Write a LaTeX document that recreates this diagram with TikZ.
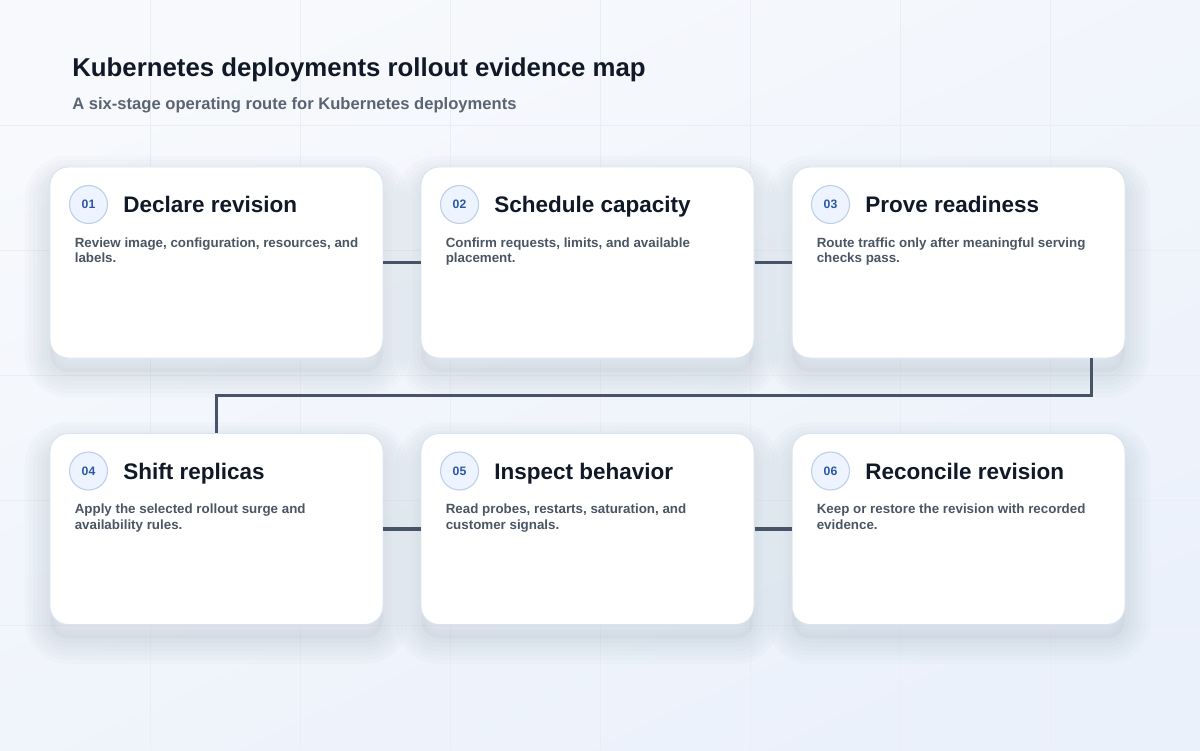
\documentclass[tikz,border=0pt]{standalone}
\usepackage{fontspec}
\setmainfont{Liberation Sans}
\usepackage{tikz}
\usepackage{xcolor}
\usetikzlibrary{positioning}

\definecolor{bgtop}{HTML}{F7F9FC}
\definecolor{bgbottom}{HTML}{EBF1FB}
\definecolor{gridcol}{HTML}{EAEEF4}
\definecolor{ink}{HTML}{111827}
\definecolor{subink}{HTML}{5B6473}
\definecolor{bodyink}{HTML}{4B5563}
\definecolor{cardline}{HTML}{DCE3EE}
\definecolor{shadowcol}{HTML}{4A5A80}
\definecolor{badgefill}{HTML}{EEF4FF}
\definecolor{badgeline}{HTML}{BFD0EA}
\definecolor{badgeink}{HTML}{2B58A6}
\definecolor{linkcol}{HTML}{475467}

\begin{document}
\begin{tikzpicture}[
    softshadow/.style={preaction={draw=shadowcol, line width=#1, draw opacity=0.018,
        transform canvas={yshift=-10pt}}},
    card/.style={rectangle, rounded corners=0.45cm, minimum width=8.325cm, minimum height=4.775cm,
        fill=white, draw=cardline, line width=0.7pt,
        softshadow=36pt, softshadow=30pt, softshadow=24pt, softshadow=18pt, softshadow=12pt, softshadow=6pt,
        preaction={fill=shadowcol, fill opacity=0.04, transform canvas={yshift=-10pt}}},
    badge/.style={circle, minimum size=0.95cm, inner sep=0pt, fill=badgefill, draw=badgeline, line width=0.8pt,
        text=badgeink, font=\fontsize{8.7}{10}\selectfont\bfseries},
    steptitle/.style={inner sep=0pt, text height=11.5pt, text depth=0pt, text=ink,
        font=\fontsize{16}{19}\selectfont\bfseries},
    stepbody/.style={inner sep=0pt, align=left, anchor=north west, text=bodyink,
        font=\fontsize{9.5}{10.7}\selectfont\bfseries},
    link/.style={draw=linkcol, line width=2.8pt}
]
    \useasboundingbox (0,0) rectangle (30,18.75);

    % Background
    \shade[top color=bgtop, bottom color=bgbottom, shading angle=25] (0,0) rectangle (30,18.75);
    \draw[gridcol, line width=0.6pt] (0.01,0.01) grid[xstep=3.75, ystep=3.125] (29.99,18.74);

    % Heading
    \node[anchor=base west, inner sep=0pt, text=ink, font=\fontsize{18.35}{22}\selectfont\bfseries] (head) at (1.8,16.825)
        {Kubernetes deployments rollout evidence map};
    \node[anchor=base west, inner sep=0pt, text=subink, font=\fontsize{11.8}{14}\selectfont\bfseries] (sub) at (1.8,16.0)
        {A six-stage operating route for Kubernetes deployments};

    % Cards, top row
    \node[card] (c1) at (5.4125,12.1875) {};
    \node[card] (c2) at (14.6875,12.1875) {};
    \node[card] (c3) at (23.9625,12.1875) {};

    % Cards, bottom row
    \node[card] (c4) at (5.4125,5.525) {};
    \node[card] (c5) at (14.6875,5.525) {};
    \node[card] (c6) at (23.9625,5.525) {};

    % Connectors
    \draw[link] (c1.east) -- (c2.west);
    \draw[link] (c2.east) -- (c3.west);
    \draw[link] ([xshift=-0.85cm]c3.south east) -- ++(0,-0.925) -| (c4.north);
    \draw[link] (c4.east) -- (c5.west);
    \draw[link] (c5.east) -- (c6.west);

    % Stage 01
    \node[badge] (b1) at ([shift={(0.975,-0.95)}]c1.north west) {01};
    \node[steptitle, right=0.375cm of b1] (t1) {Declare revision};
    \node[stepbody] (d1) at ([shift={(0.625,-1.775)}]c1.north west) {Review image, configuration, resources, and\\labels.};

    % Stage 02
    \node[badge] (b2) at ([shift={(0.975,-0.95)}]c2.north west) {02};
    \node[steptitle, right=0.375cm of b2] (t2) {Schedule capacity};
    \node[stepbody] (d2) at ([shift={(0.625,-1.775)}]c2.north west) {Confirm requests, limits, and available\\placement.};

    % Stage 03
    \node[badge] (b3) at ([shift={(0.975,-0.95)}]c3.north west) {03};
    \node[steptitle, right=0.375cm of b3] (t3) {Prove readiness};
    \node[stepbody] (d3) at ([shift={(0.625,-1.775)}]c3.north west) {Route traffic only after meaningful serving\\checks pass.};

    % Stage 04
    \node[badge] (b4) at ([shift={(0.975,-0.95)}]c4.north west) {04};
    \node[steptitle, right=0.375cm of b4] (t4) {Shift replicas};
    \node[stepbody] (d4) at ([shift={(0.625,-1.775)}]c4.north west) {Apply the selected rollout surge and\\availability rules.};

    % Stage 05
    \node[badge] (b5) at ([shift={(0.975,-0.95)}]c5.north west) {05};
    \node[steptitle, right=0.375cm of b5] (t5) {Inspect behavior};
    \node[stepbody] (d5) at ([shift={(0.625,-1.775)}]c5.north west) {Read probes, restarts, saturation, and\\customer signals.};

    % Stage 06
    \node[badge] (b6) at ([shift={(0.975,-0.95)}]c6.north west) {06};
    \node[steptitle, right=0.375cm of b6] (t6) {Reconcile revision};
    \node[stepbody] (d6) at ([shift={(0.625,-1.775)}]c6.north west) {Keep or restore the revision with recorded\\evidence.};
\end{tikzpicture}
\end{document}
